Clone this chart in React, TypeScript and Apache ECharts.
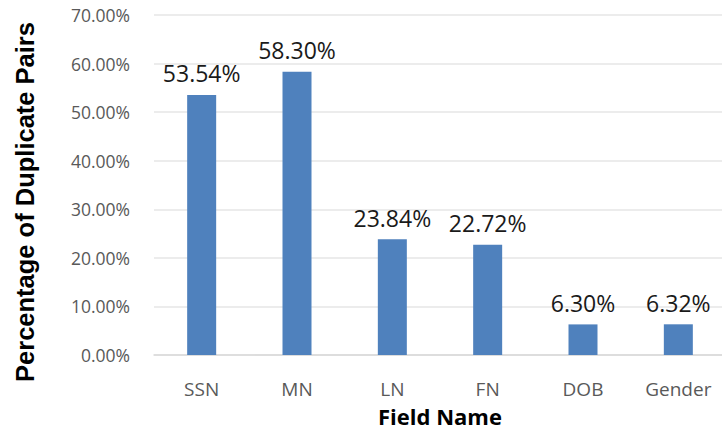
import React, { useEffect, useRef } from "react";
import * as echarts from "echarts";

const categories = ["SSN", "MN", "LN", "FN", "DOB", "Gender"];
const values = [53.54, 58.3, 23.84, 22.72, 6.3, 6.32];
const yTicks = [0, 10, 20, 30, 40, 50, 60, 70];
const yTitle = "Percentage of Duplicate Pairs";
const xTitle = "Field Name";

export default function App() {
  const ref = useRef<HTMLDivElement>(null);
  useEffect(() => {
    const chart = echarts.init(ref.current!, null, { renderer: "svg" });
    const font = "Open Sans, sans-serif";
    chart.setOption({
      animation: false,
      grid: { left: 154, top: 15, width: 572, height: 340, outerBoundsMode: "none", containLabel: false },
      graphic: [
        {
          type: "text",
          x: 25,
          y: 202,
          rotation: Math.PI / 2,
          style: {
            text: yTitle,
            fontFamily: "Liberation Sans, Arial, sans-serif",
            fontWeight: "bold",
            fontSize: 25.5,
            fill: "#000",
            align: "center",
            verticalAlign: "middle",
          },
        },
      ],
      xAxis: {
        type: "category",
        data: categories,
        name: xTitle,
        nameLocation: "middle",
        nameGap: 50,
        nameTextStyle: { fontFamily: font, fontWeight: "bold", fontSize: 22, color: "#000" },
        axisLine: { lineStyle: { color: "#d9d9d9", width: 1.5 } },
        axisTick: { show: false },
        axisLabel: { fontFamily: font, fontSize: 19, color: "#595959", margin: 24 },
      },
      yAxis: {
        type: "value",
        min: yTicks[0],
        max: yTicks[yTicks.length - 1],
        interval: 10,
        axisLine: { show: false },
        axisTick: { show: false },
        axisLabel: {
          fontFamily: font,
          fontSize: 17.5,
          color: "#595959",
          margin: 24,
          formatter: (v: number) => v.toFixed(2) + "%",
        },
        splitLine: { lineStyle: { color: "#e6e6e6", width: 1.5 } },
      },
      series: [
        {
          type: "bar",
          data: values,
          barWidth: 29,
          itemStyle: { color: "#4f81bd" },
          label: {
            show: true,
            position: "top",
            distance: 10,
            fontFamily: font,
            fontSize: 23,
            color: "#1a1a1a",
            formatter: (p: any) => p.value.toFixed(2) + "%",
          },
        },
      ],
    });
    return () => chart.dispose();
  }, []);
  return <div ref={ref} style={{ width: 722, height: 435, position: "absolute", left: 0, top: 0 }} />;
}
